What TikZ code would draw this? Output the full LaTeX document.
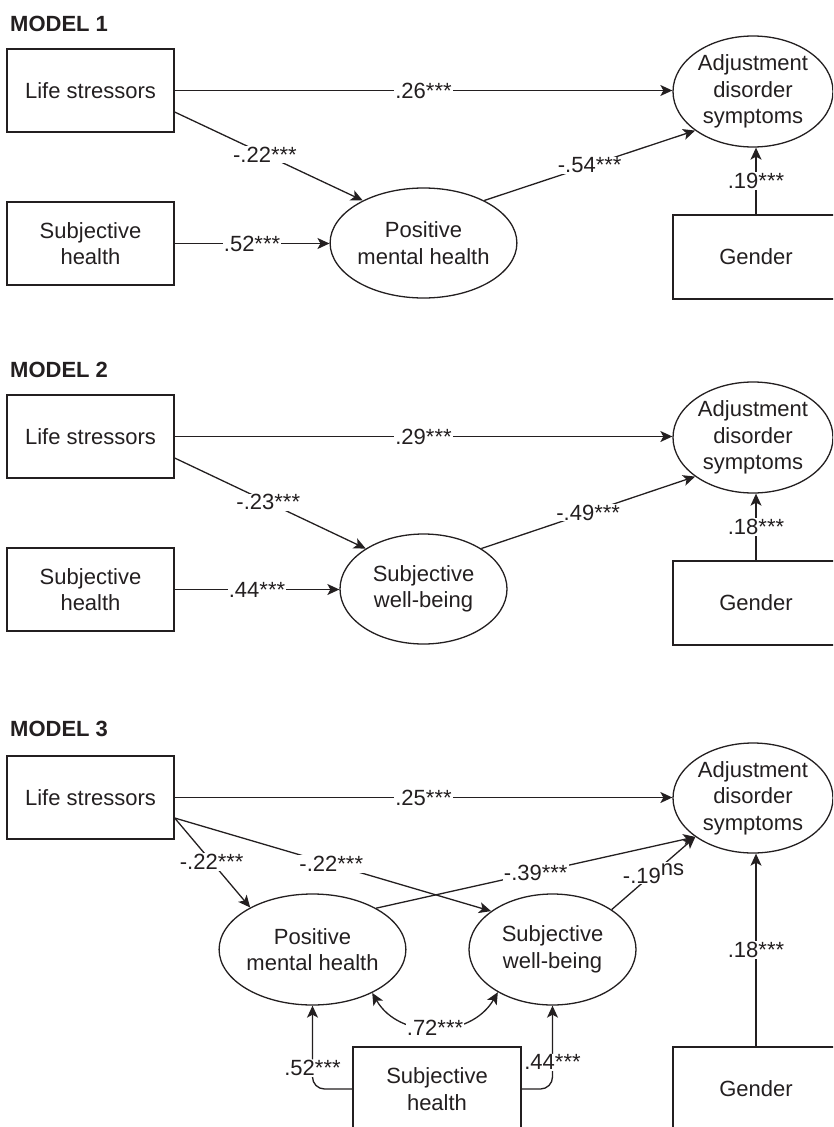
\documentclass[tikz,border=0pt]{standalone}
\usepackage{fontspec}
\setmainfont{Liberation Sans}
\usetikzlibrary{arrows.meta,calc,shapes.geometric}
\definecolor{ink}{RGB}{35,31,32}
\begin{document}
\begin{tikzpicture}[x=1pt,y=-1pt,
  every node/.style={font=\fontsize{22}{26.5}\selectfont, text=ink},
  box/.style={draw=ink, line width=1.3pt, rectangle, minimum width=167pt, minimum height=83pt, inner sep=0pt, align=center},
  lat/.style={draw=ink, line width=1.3pt, ellipse, inner sep=0pt, align=center, minimum width=167pt, minimum height=110pt},
  outc/.style={draw=ink, line width=1.3pt, ellipse, inner sep=0pt, align=center, minimum width=160pt, minimum height=111pt},
  conn/.style={draw=ink, line width=1.3pt, -{Stealth[length=12pt,width=11pt,inset=3pt]}},
  dconn/.style={draw=ink, line width=1.3pt, {Stealth[length=12pt,width=11pt,inset=3pt]}-{Stealth[length=12pt,width=11pt,inset=3pt]}},
  coef/.style={fill=white, inner sep=1pt},
  title/.style={font=\bfseries\fontsize{22}{26}\selectfont, anchor=west, inner sep=0pt}
]
\useasboundingbox (0,0) rectangle (833,1127);
\clip (0,0) rectangle (833,1127);

% ---------------- MODEL 1 ----------------
\node[title] (t1) at (10,24) {MODEL 1};
\node[box] (ls1) at (90.5,90.5) {Life stressors};
\node[box] (sh1) at (90.5,243.5) {Subjective\\health};
\node[lat] (pmh1) at (423.5,243) {Positive\\mental health};
\node[outc] (ads1) at (753,91.5) {Adjustment\\disorder\\symptoms};
\node[box, minimum width=166pt, minimum height=84pt] (g1) at (756,257) {Gender};

\draw[conn] (ls1.east) -- node[coef]{.26***} (ls1.east -| ads1.west);
\draw[conn] ($(ls1.east)+(0,21.5)$) -- node[coef,pos=0.48]{-.22***} (pmh1.145.6);
\draw[conn] (sh1.east) -- node[coef]{.52***} (sh1.east -| pmh1.west);
\draw[conn] (pmh1.35) -- node[coef]{-.54***} (ads1.214.5);
\draw[conn] (g1.north) -- node[coef]{.19***} (g1.north |- ads1.south);

% ---------------- MODEL 2 ----------------
\node[title] (t2) at (10,370) {MODEL 2};
\node[box] (ls2) at (90.5,436.5) {Life stressors};
\node[box] (sh2) at (90.5,589.5) {Subjective\\health};
\node[lat] (swb2) at (423.5,589) {Subjective\\well-being};
\node[outc] (ads2) at (753,437.5) {Adjustment\\disorder\\symptoms};
\node[box, minimum width=166pt, minimum height=84pt] (g2) at (756,603) {Gender};

\draw[conn] (ls2.east) -- node[coef]{.29***} (ls2.east -| ads2.west);
\draw[conn] ($(ls2.east)+(0,21.5)$) -- node[coef,pos=0.49]{-.23***} (swb2.145.6);
\draw[conn] (sh2.east) -- node[coef]{.44***} (sh2.east -| swb2.west);
\draw[conn] (swb2.35) -- node[coef]{-.49***} (ads2.214.5);
\draw[conn] (g2.north) -- node[coef]{.18***} (g2.north |- ads2.south);

% ---------------- MODEL 3 ----------------
\node[title] (t3) at (10,729) {MODEL 3};
\node[box] (ls3) at (90.5,797.5) {Life stressors};
\node[outc, minimum height=110pt] (ads3) at (753,798) {Adjustment\\disorder\\symptoms};
\node[lat, minimum height=111pt] (pmh3) at (312.5,949.5) {Positive\\mental health};
\node[lat, minimum height=111pt] (swb3) at (552.5,949.5) {Subjective\\well-being};
\node[box, minimum width=168pt, minimum height=84pt] (sh3) at (437,1089) {Subjective\\health};
\node[box, minimum width=166pt, minimum height=84pt] (g3) at (756,1089) {Gender};

\draw[conn] (ls3.east) -- node[coef]{.25***} (ls3.east -| ads3.west);
\draw[conn] ($(ls3.east)+(0,20.5)$) -- node[coef,pos=0.49]{-.22***} (pmh3.146);
\draw[conn] ($(ls3.east)+(0,20.5)$) -- node[coef,pos=0.495]{-.22***} (swb3.148);
\draw[conn] (pmh3.33.6) -- node[coef]{-.39***} (ads3.214.6);
\draw[conn] (swb3.34) -- node[coef]{-.19\raisebox{8pt}{ns}} (ads3.214.6);
\draw[conn] (g3.north) -- node[coef]{.18***} (g3.north |- ads3.south);
\draw[dconn] (pmh3.-36) to[out=-60,in=-120,looseness=1.1] node[coef]{.72***} (swb3.218);
\draw[conn, rounded corners=12pt] (sh3.west) -| node[coef,pos=0.625]{.52***} (pmh3.south);
\draw[conn, rounded corners=12pt] (sh3.east) -| node[coef,pos=0.66]{.44***} (swb3.south);
\end{tikzpicture}
\end{document}
